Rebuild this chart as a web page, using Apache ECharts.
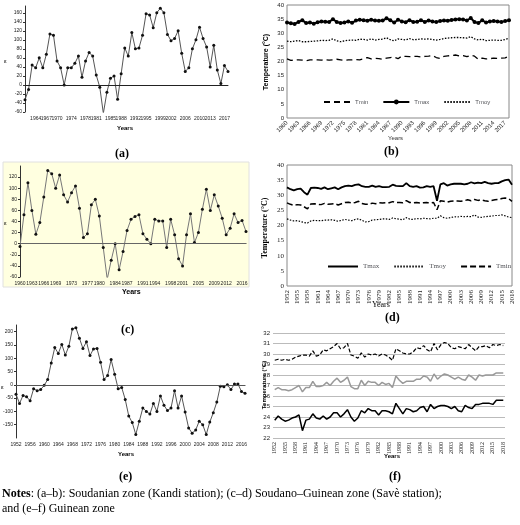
<!DOCTYPE html><html><head><meta charset="utf-8"><script src="https://cdn.jsdelivr.net/npm/echarts@6/dist/echarts.min.js"></script></head><body style="margin:0;background:#fff"><div id="c" style="width:520px;height:525px"></div><script>
function yrs(a,b){var r=[];for(var y=a;y<=b;y++)r.push(String(y));return r;}
var yearsA=yrs(1961,2018), yearsB=yrs(1960,2018), yearsC=yrs(1960,2017), yearsD=yrs(1952,2018), yearsE=yrs(1952,2017), yearsF=yrs(1952,2018);
var labelsA=['1961','1964','1967','1970','1974','1978','1981','1985','1988','1992','1995','1999','2002','2006','2010','2013','2017'];
var labelsC=['1960','1963','1966','1969','1973','1977','1980','1984','1987','1991','1994','1998','2001','2005','2009','2012','2016'];
var cA=[-33,-10,44,38,60,38,68,113,110,53,38,0,38,38,48,64,17,53,72,64,22,-5,-63,-16,15,20,-32,25,82,64,116,80,82,110,158,155,127,160,170,160,112,98,103,120,70,30,38,80,100,128,103,84,40,88,33,3,43,30];
var bTmax=[33.8,33.5,33.3,34.0,34.6,33.6,33.8,33.4,33.9,34.2,34.1,34.0,35.0,34.0,33.6,33.8,34.2,33.7,34.5,34.8,34.6,34.4,34.8,34.5,34.4,34.5,35.3,34.6,33.8,34.8,34.2,33.9,34.6,34.0,34.1,34.6,34.0,34.5,34.2,34.0,34.3,34.5,34.4,34.7,34.9,35.0,34.9,34.5,35.4,34.0,33.6,34.6,33.8,34.2,34.3,34.2,34.0,34.3,34.6];
var bTmoy=[27.2,27.0,27.2,27.4,27.0,27.0,27.1,27.2,27.3,27.5,27.4,27.5,28.0,27.3,27.0,27.3,27.5,27.6,27.5,27.9,27.8,27.6,28.0,27.6,27.8,27.9,28.4,27.7,27.3,28.0,27.8,27.6,28.1,27.7,27.8,28.0,27.9,28.0,27.8,27.6,27.8,28.1,28.3,28.4,28.5,28.5,28.4,28.3,28.8,28.0,27.6,27.9,27.4,27.5,27.6,27.5,27.5,27.8,28.2];
var bTmin=[20.9,20.4,20.5,20.6,20.5,20.3,20.6,20.6,20.6,20.5,20.6,20.5,20.6,20.8,20.6,20.4,20.6,20.6,20.7,20.6,21.0,21.4,20.9,21.1,21.0,20.8,21.2,21.4,21.5,21.0,21.9,21.8,21.7,21.8,21.8,21.6,21.8,21.9,22.1,21.4,21.1,21.8,22.0,22.1,22.3,22.0,22.1,21.7,22.2,21.9,20.8,21.2,20.9,21.0,21.2,21.1,21.2,21.3,21.9];
var cC=[-5,52,110,60,17,38,84,132,126,100,124,88,75,92,104,64,11,18,70,80,50,-7,-64,-30,0,-47,-14,24,44,49,52,18,8,0,44,41,41,-7,44,16,-27,-40,16,54,2,20,62,98,60,88,68,46,16,28,54,38,42,22];
var dTmax=[32.6,32.0,31.6,32.0,32.2,31.0,30.2,32.4,32.5,32.4,32.1,32.6,32.0,32.3,32.6,32.0,32.6,33.0,33.2,33.0,33.4,33.6,33.0,32.8,32.8,33.2,32.8,33.0,32.7,32.7,32.8,33.5,33.1,33.0,33.0,34.0,33.0,32.8,33.0,32.5,32.6,33.0,32.8,33.0,28.2,33.6,34.0,33.2,33.6,33.8,33.8,33.8,33.6,33.8,34.3,33.9,34.2,34.0,34.4,34.0,33.8,34.0,34.0,34.6,35.0,35.2,33.5];
var dTmin=[27.5,27.0,26.7,26.9,26.8,26.2,25.5,27.1,27.2,27.0,26.9,27.3,27.0,27.1,27.2,26.8,27.2,27.6,27.7,27.4,27.6,28.0,27.3,27.0,27.0,27.4,27.2,27.5,27.4,27.5,27.5,27.9,27.6,27.6,27.5,28.2,27.6,27.5,27.6,27.4,27.5,27.6,27.4,27.6,25.2,28.2,28.0,27.7,28.0,28.1,28.1,28.0,28.2,28.5,28.2,28.6,28.3,28.5,28.2,28.0,28.3,28.5,28.6,28.9,29.1,28.9,28.0];
var dTmoy=[22.2,21.8,21.5,21.6,21.3,21.0,20.8,21.5,21.7,21.6,21.6,21.8,21.8,21.9,21.7,21.4,21.7,22.0,21.8,21.6,22.0,22.2,21.7,21.2,21.3,21.8,21.9,22.0,22.2,22.2,22.0,22.5,22.2,22.1,21.9,22.6,22.1,22.0,22.3,22.2,22.4,22.3,22.2,22.4,22.4,23.2,22.6,22.4,22.6,22.9,22.8,23.0,22.9,23.0,22.9,23.5,22.8,22.7,22.9,23.0,23.1,23.3,23.3,23.5,23.2,22.8,22.6];
var cE=[-35,-70,-40,-45,-60,-15,-22,-18,-2,20,82,140,118,152,112,145,210,215,175,137,162,110,135,137,85,20,35,95,40,-15,-10,-55,-117,-142,-187,-137,-87,-100,-110,-70,-100,-42,-77,-97,-87,-22,-87,-42,-102,-162,-182,-170,-137,-150,-187,-140,-105,-65,-5,-7,0,-18,3,3,-25,-32];
var fTop=[29.4,29.5,29.4,29.5,29.4,29.5,29.7,29.8,29.9,29.9,29.8,30.3,29.8,29.9,30.4,30.3,30.5,30.7,31.0,30.5,30.6,31.0,29.9,29.8,29.6,30.1,29.7,30.0,29.9,30.0,29.8,30.0,29.9,29.7,29.4,30.5,30.3,30.1,30.0,30.0,30.2,30.6,30.5,30.8,30.4,30.2,31.0,30.4,30.9,31.1,31.0,30.6,30.5,30.7,30.6,30.5,30.9,30.6,30.3,30.7,30.7,30.8,30.6,30.9,30.8,30.9,30.8];
var fMid=[26.6,26.8,26.6,26.6,26.5,26.6,26.8,27.0,26.4,26.8,26.8,27.4,26.9,26.9,27.0,27.3,27.0,27.4,27.7,27.3,27.5,27.8,26.9,26.7,26.7,27.5,27.0,27.4,27.3,27.3,27.0,27.3,27.1,27.2,26.8,27.9,27.5,27.2,27.4,27.4,27.4,27.6,27.6,27.9,27.8,27.4,28.1,27.6,27.9,28.1,28.0,27.8,27.6,27.8,27.6,27.5,28.0,27.8,27.5,28.0,27.9,28.0,28.0,28.0,28.2,28.2,28.2];
var fLow=[23.7,24.1,23.8,23.6,23.7,23.9,24.0,24.2,22.7,23.7,23.8,24.3,23.9,23.8,24.1,23.8,24.0,24.4,24.4,24.0,24.3,24.7,24.0,23.6,23.9,24.6,24.4,24.8,24.6,24.6,24.2,24.6,24.6,24.5,24.3,25.3,24.8,24.3,24.8,24.7,24.5,24.6,24.9,25.0,24.5,25.2,24.8,25.0,25.1,25.1,25.0,24.8,25.0,24.6,24.5,25.1,24.9,24.8,25.2,25.2,25.3,25.3,25.3,25.2,25.6,25.6,25.6];

var S='Liberation Sans', SR='Liberation Serif';
function xa(i,data,lab,extra){return Object.assign({type:'category',gridIndex:i,data:data,boundaryGap:false,
 axisLine:{lineStyle:{color:'#333'}},axisTick:{show:false},
 axisLabel:Object.assign({fontSize:5,color:'#222',fontFamily:S,margin:4},lab)},extra||{});}
function ya(i,o,lab){return Object.assign({type:'value',gridIndex:i,splitLine:{show:false},
 axisLine:{show:true,lineStyle:{color:'#333'}},axisTick:{show:true,length:2},
 axisLabel:Object.assign({fontSize:5,color:'#222',fontFamily:S,margin:3},lab)},o);}
function ln(i,name,d,o){return Object.assign({type:'line',name:name,xAxisIndex:i,yAxisIndex:i,data:d,symbol:'none',showAllSymbol:true,animation:false},o);}
function zero(c){return {silent:true,symbol:'none',label:{show:false},lineStyle:{color:c,type:'solid',width:1},data:[{yAxis:0}]};}
var dot={symbol:'circle',symbolSize:3,itemStyle:{color:'#111'},lineStyle:{color:'#555',width:1}};
function txt(x,y,t,f){return {type:'text',left:x,top:y,style:Object.assign({text:t,fill:'#000',font:'bold 6px '+S},f)};}
function vt(x,y,t,font){return {type:'text',x:x,y:y,rotation:Math.PI/2,style:{text:t,font:font,fill:'#000',align:'center',verticalAlign:'middle'}};}
var hide={itemStyle:{opacity:0}};
var opt={animation:false,
 grid:[
  {left:25,top:6,width:203,height:106},
  {left:287,top:5,width:222,height:113,show:true,borderColor:'#888',borderWidth:1},
  {left:20,top:166,width:226,height:111},
  {left:287,top:165,width:225,height:121,show:true,borderColor:'#888',borderWidth:1},
  {left:15,top:325,width:230,height:113},
  {left:273,top:333,width:232,height:105}],
 xAxis:[
  xa(0,yearsA,{interval:function(i,v){return labelsA.indexOf(v)>=0;}}),
  xa(1,yearsB,{interval:2,rotate:45,fontSize:6},{axisLine:{show:false}}),
  xa(2,yearsC,{interval:function(i,v){return labelsC.indexOf(v)>=0;}}),
  xa(3,yearsD,{interval:2,rotate:90,fontSize:7,fontFamily:SR},{axisLine:{show:false}}),
  xa(4,yearsE,{interval:3}),
  xa(5,yearsF,{interval:2,rotate:90,fontSize:6,fontFamily:SR},{boundaryGap:true,axisLine:{show:false}})],
 yAxis:[
  ya(0,{min:-60,max:175,interval:20},{showMaxLabel:false}),
  ya(1,{min:0,max:40,interval:5,axisLine:{show:false},axisTick:{show:false}},{fontSize:6}),
  ya(2,{min:-60,max:140,interval:20},{showMaxLabel:false}),
  ya(3,{min:0,max:40,interval:5,axisLine:{show:false},axisTick:{show:false}},{fontSize:7,fontFamily:SR}),
  ya(4,{min:-200,max:225,interval:50},{showMinLabel:false,showMaxLabel:false}),
  ya(5,{min:22,max:32,interval:1,axisLine:{show:false},axisTick:{show:false},splitLine:{show:true,lineStyle:{color:'#bbb'}}},{fontSize:6})],
 legend:[
  {data:[Object.assign({name:'Tmin'},hide),'Tmax',Object.assign({name:'Tmoy'},hide)],left:318,top:94,width:190,itemGap:14,itemWidth:26,itemHeight:6,textStyle:{fontSize:6,fontFamily:S},formatter:function(n){return n.trim();}},
  {data:[Object.assign({name:'Tmax '},hide),Object.assign({name:'Tmoy '},hide),Object.assign({name:'Tmin '},hide)],left:322,top:258,width:190,itemGap:14,itemWidth:30,itemHeight:6,textStyle:{fontSize:7,fontFamily:SR},formatter:function(n){return n.trim();}}],
 series:[
  ln(0,'a',cA,Object.assign({markLine:zero('#222')},dot)),
  ln(1,'Tmin',bTmin,{lineStyle:{color:'#000',width:1.3,type:[6,4]},itemStyle:{color:'#000'}}),
  ln(1,'Tmax',bTmax,{symbol:'circle',symbolSize:4,lineStyle:{color:'#000',width:2},itemStyle:{color:'#000'}}),
  ln(1,'Tmoy',bTmoy,{lineStyle:{color:'#000',width:1.3,type:[1.5,1.5]},itemStyle:{color:'#000'}}),
  ln(2,'c',cC,Object.assign({markLine:zero('#666')},dot,{lineStyle:{color:'#777',width:1}})),
  ln(3,'Tmax ',dTmax,{lineStyle:{color:'#000',width:1.8},itemStyle:{color:'#000'}}),
  ln(3,'Tmoy ',dTmoy,{lineStyle:{color:'#000',width:1.2,type:[1.5,1.5]},itemStyle:{color:'#000'}}),
  ln(3,'Tmin ',dTmin,{lineStyle:{color:'#000',width:1.5,type:[6,3]},itemStyle:{color:'#000'}}),
  ln(4,'e',cE,Object.assign({markLine:zero('#555')},dot)),
  ln(5,'f1',fTop,{lineStyle:{color:'#000',width:1.2,type:[4,2]}}),
  ln(5,'f2',fMid,{lineStyle:{color:'#999',width:1.5}}),
  ln(5,'f3',fLow,{lineStyle:{color:'#000',width:1.5}})],
 graphic:[
  {type:'rect',shape:{x:3,y:162,width:246,height:125},style:{fill:'#ffffe0',stroke:'#e0e0e0'},z:-10},
  txt(117,125,'Years'),txt(388,135,'Years',{font:'6px '+S,fill:'#333'}),
  txt(122,289,'Years',{font:'bold 7px '+S}),txt(372,301,'Years',{font:'8px '+SR}),
  txt(118,451,'Years'),txt(384,453,'Years'),
  txt(115,148,'(a)',{font:'bold 12px '+SR}),txt(384,146,'(b)',{font:'bold 12px '+SR}),
  txt(121,324,'(c)',{font:'bold 12px '+SR}),txt(385,312,'(d)',{font:'bold 12px '+SR}),
  txt(119,471,'(e)',{font:'bold 12px '+SR}),txt(389,471,'(f)',{font:'bold 12px '+SR}),
  {type:'text',left:4,top:58,style:{text:'ε',font:'6px '+S,fill:'#000'}},
  {type:'text',left:4,top:220,style:{text:'ε',font:'6px '+S,fill:'#000'}},
  {type:'text',left:1,top:384,style:{text:'ε',font:'6px '+S,fill:'#000'}},
  vt(266,62,'Temperature (°C)','bold 7px '+S),
  vt(265,228,'Temperature (°C)','bold 8px '+SR),
  vt(264,385,'Temperature (°C)','bold 6px '+S),
  {type:'text',left:2,top:488,style:{rich:{b:{font:'bold 12px '+SR,fill:'#000'},n:{font:'12px '+SR,fill:'#000'}},text:'{b|Notes}{n|: (a–b): Soudanian zone (Kandi station); (c–d) Soudano–Guinean zone (Savè station);}'}},
  {type:'text',left:2,top:503,style:{text:'and (e–f) Guinean zone',font:'12px '+SR,fill:'#000'}}
 ]};
echarts.init(document.getElementById('c')).setOption(opt);
</script></body></html>
